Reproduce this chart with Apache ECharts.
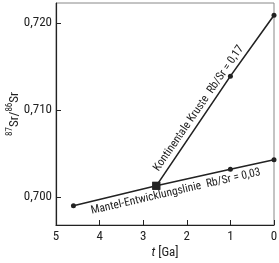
<!DOCTYPE html>
<html><head><meta charset="utf-8">
<script src="https://cdn.jsdelivr.net/npm/echarts@6/dist/echarts.min.js"></script>
<style>html,body{margin:0;padding:0;background:#fff}#c{width:279px;height:263px}</style>
</head><body><div id="c"></div>
<script>
var xTicks = [5, 4, 3, 2, 1, 0];
var yTicks = [0.700, 0.710, 0.720];
var mantleT = [4.6, 2.7, 1, 0];
var mantleR = [0.6990, 0.7013, 0.7032, 0.7043];
var crustT = [2.7, 1, 0];
var crustR = [0.7013, 0.7139, 0.7209];
var mantleLabel = 'Mantel-Entwicklungslinie  Rb/Sr = 0,03';
var crustLabel = 'Kontinentale Kruste  Rb/Sr = 0,17';

var FONT = "'Roboto Condensed','Liberation Sans',sans-serif";
var INK = '#222';

function pts(ts, rs, squareIdx) {
  return ts.map(function (t, i) {
    var it = { value: [t, rs[i]] };
    if (i === squareIdx) { it.symbol = 'rect'; it.symbolSize = 8; }
    return it;
  });
}

var chart = echarts.init(document.getElementById('c'));
chart.setOption({
  animation: false,
  textStyle: { fontFamily: FONT },
  grid: { left: 56, right: 5, top: 3, bottom: 38, show: true, borderColor: '#888', borderWidth: 1, outerBoundsMode: 'none', containLabel: false },
  xAxis: {
    type: 'value', min: 0, max: 5, interval: 1, inverse: true,
    axisLine: { onZero: false, lineStyle: { color: INK, width: 1.2 } },
    axisTick: { inside: true, length: 5, lineStyle: { color: INK } },
    axisLabel: { color: INK, fontSize: 13, margin: 5, fontFamily: FONT,
      formatter: function (v) { return xTicks.indexOf(v) >= 0 ? String(v) : ''; } },
    splitLine: { show: false },
    name: '{it|t} [Ga]', nameLocation: 'middle', nameGap: 21, nameMoveOverlap: false,
    nameTextStyle: { color: INK, fontSize: 13, fontFamily: FONT, rich: { it: { fontStyle: 'italic', fontSize: 13, fontFamily: FONT, color: INK } } }
  },
  yAxis: {
    type: 'value', min: 0.6968, max: 0.7223,
    axisLine: { show: true, onZero: false, lineStyle: { color: INK, width: 1.2 } },
    axisTick: { show: true, inside: true, length: 5, lineStyle: { color: INK }, customValues: yTicks },
    axisLabel: { color: INK, fontSize: 13, margin: 4, fontFamily: FONT, customValues: yTicks,
      formatter: function (v) { return v.toFixed(3).replace('.', ','); } },
    splitLine: { show: false },
    name: '{sup|87}{n|Sr/}{sup|86}{n|Sr}', nameLocation: 'middle', nameGap: 35, nameRotate: 90, nameMoveOverlap: false,
    nameTextStyle: { color: INK, fontFamily: FONT, rich: {
      n: { fontSize: 13, fontFamily: FONT, color: INK, lineHeight: 16, verticalAlign: 'bottom' },
      sup: { fontSize: 9, fontFamily: FONT, color: INK, lineHeight: 16, verticalAlign: 'top' } } }
  },
  series: [
    {
      type: 'line', data: pts(mantleT, mantleR, 1), symbol: 'circle', symbolSize: 5,
      showAllSymbol: true,
      lineStyle: { color: INK, width: 1.6 }, itemStyle: { color: INK },
      markLine: {
        silent: true, symbol: 'none', lineStyle: { color: 'rgba(0,0,0,0)', width: 1 },
        label: { show: true, position: 'insideMiddleBottom', formatter: mantleLabel, color: INK, fontSize: 11.5, fontFamily: FONT, distance: 3 },
        data: [[{ coord: [mantleT[0], mantleR[0]] }, { coord: [mantleT[mantleT.length - 1], mantleR[mantleR.length - 1]] }]]
      }
    },
    {
      type: 'line', data: pts(crustT, crustR, 0), symbol: 'circle', symbolSize: 5,
      showAllSymbol: true,
      lineStyle: { color: INK, width: 1.6 }, itemStyle: { color: INK }, z: 3,
      markLine: {
        silent: true, symbol: 'none', lineStyle: { color: 'rgba(0,0,0,0)', width: 1 },
        label: { show: true, position: 'insideStartTop', formatter: crustLabel, color: INK, fontSize: 11.5, fontFamily: FONT, distance: [13, 3] },
        data: [[{ coord: [crustT[0], crustR[0]] }, { coord: [crustT[crustT.length - 1], crustR[crustR.length - 1]] }]]
      }
    }
  ]
});
</script></body></html>
